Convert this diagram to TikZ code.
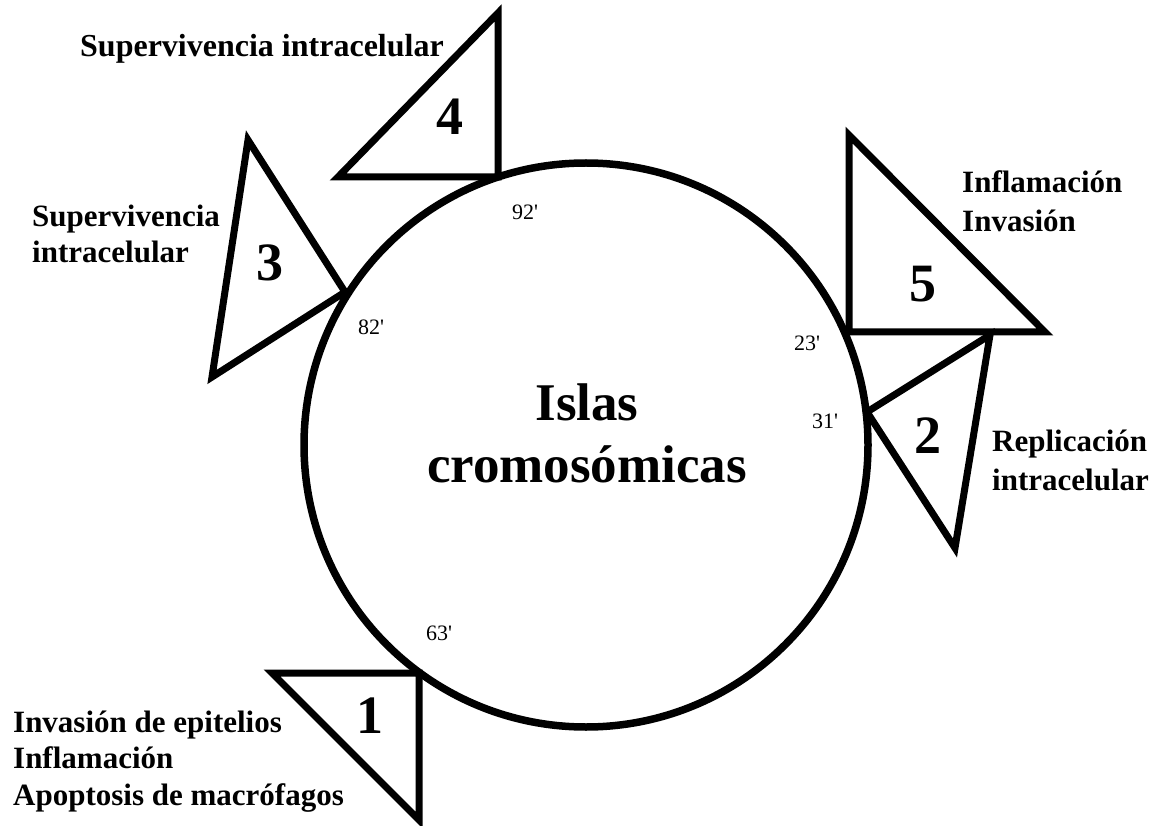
\documentclass[tikz,border=0pt]{standalone}
\usepackage{fontspec}
\setmainfont{Liberation Serif}
\newfontfamily\degfont{Liberation Serif}[Ligatures=TeXOff]
\begin{document}
\begin{tikzpicture}[x=1pt,y=-1pt,
  lbl/.style={font=\bfseries\fontsize{31}{37}\selectfont, anchor=base west, inner sep=0pt},
  big/.style={font=\bfseries\fontsize{53}{60}\selectfont, anchor=base, inner sep=0pt},
  num/.style={font=\bfseries\fontsize{54}{60}\selectfont, inner sep=0pt},
  deg/.style={font=\degfont\fontsize{22}{26}\selectfont, inner sep=0pt},
  tri/.style={line width=7pt, line join=miter},
  ring/.style={circle, draw, line width=7.5pt, minimum size=564pt, inner sep=0pt}]
\useasboundingbox (0,0) rectangle (1157,826);
\fill[white] (0,0) rectangle (1157,826);
% circle
\node[ring] (isla) at (586,445) {};
\node[big] (t1) at (587,420) {Islas};
\node[big] (t2) at (587,482) {cromosómicas};
% triangle 4
\coordinate (a4) at (498,13);
\coordinate (b4) at (338,177);
\coordinate (c4) at (498,177);
\draw[tri] (a4) -- (b4) -- (c4) -- cycle;
\node[num] (n4) at (450,117) {4};
% triangle 3
\coordinate (a3) at (248,140);
\coordinate (b3) at (345,292);
\coordinate (c3) at (212,377);
\draw[tri] (a3) -- (b3) -- (c3) -- cycle;
\node[num] (n3) at (270,263) {3};
% triangle 5
\coordinate (a5) at (849,135);
\coordinate (b5) at (849,332);
\coordinate (c5) at (1045,332);
\draw[tri] (a5) -- (b5) -- (c5) -- cycle;
\node[num] (n5) at (923,284) {5};
% triangle 2
\coordinate (a2) at (990,335);
\coordinate (b2) at (867,412);
\coordinate (c2) at (955,548);
\draw[tri] (a2) -- (b2) -- (c2) -- cycle;
\node[num] (n2) at (928,436) {2};
% triangle 1
\coordinate (a1) at (272,673);
\coordinate (b1) at (419,673);
\coordinate (c1) at (419,820);
\draw[tri] (a1) -- (b1) -- (c1) -- cycle;
\node[num] (n1) at (370,716) {1};
% degree labels
\node[deg] (d92) at (525,212) {92'};
\node[deg] (d82) at (371,327) {82'};
\node[deg] (d23) at (807,343) {23'};
\node[deg] (d31) at (825,421) {31'};
\node[deg] (d63) at (439,633) {63'};
% labels
\node[lbl, font=\bfseries\fontsize{32}{37}\selectfont] (L4) at (80,57) {Supervivencia intracelular};
\node[lbl] (L3a) at (32,227) {Supervivencia};
\node[lbl] (L3b) at (32,263) {intracelular};
\node[lbl] (L5a) at (962,193) {Inflamación};
\node[lbl] (L5b) at (962,232) {Invasión};
\node[lbl] (L2a) at (992,451) {Replicación};
\node[lbl] (L2b) at (992,490) {intracelular};
\node[lbl] (L1a) at (13,732) {Invasión de epitelios};
\node[lbl] (L1b) at (13,768) {Inflamación};
\node[lbl] (L1c) at (13,805) {Apoptosis de macrófagos};
\end{tikzpicture}
\end{document}
